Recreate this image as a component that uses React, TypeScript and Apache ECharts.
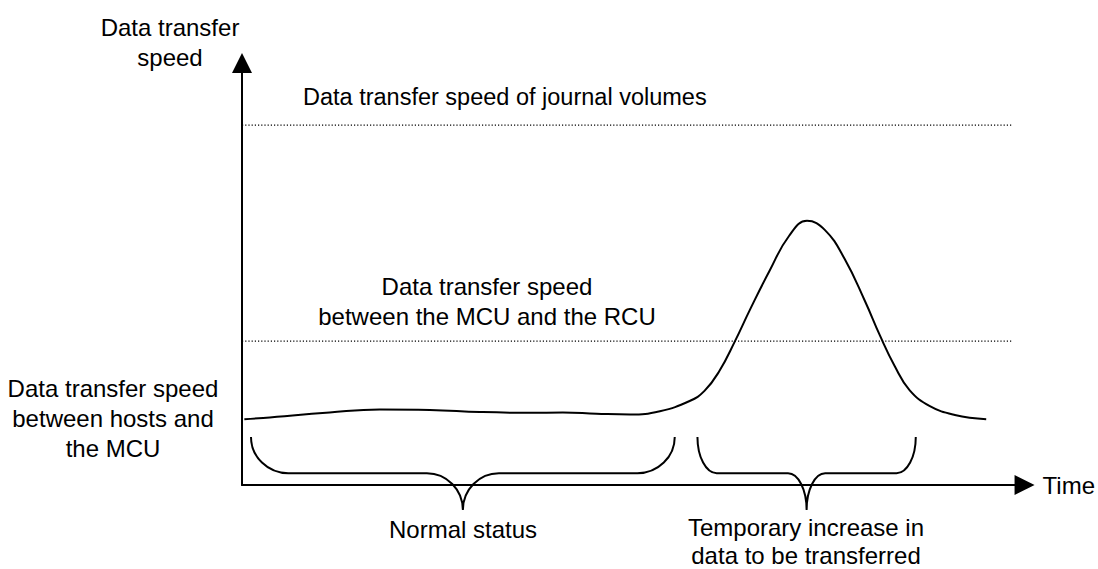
import React, { useEffect, useRef } from "react";
import * as echarts from "echarts";

// Time axis (0–100) and transfer-speed axis (0–100), conceptual units
const curveTime = [0.3, 2.7, 11.2, 17.6, 24.0, 30.4, 36.8, 41.0, 45.3, 49.6, 53.4, 57.2, 59.1, 61.0, 63.0, 64.9, 67.4, 69.9, 72.2, 74.5, 77.0, 79.6, 81.5, 83.4, 85.3, 87.9, 91.1, 95.1];
const curveSpeed = [15.6, 15.9, 17.2, 17.9, 17.8, 17.3, 17.1, 17.2, 16.9, 16.7, 17.5, 19.9, 22.3, 27.0, 34.1, 41.5, 50.7, 59.0, 62.6, 60.4, 53.6, 43.6, 35.5, 28.2, 22.5, 18.7, 16.6, 15.6];

const journalSpeed = 85.3;
const linkSpeed = 34.1;
const thresholdSpan = [0, 98.3];

// braces: [startTime, endTime, topSpeed, barSpeed, tipSpeed]
const braceStart = [1.15, 58.2];
const braceEnd = [55.3, 86.1];
const braceTop = 11.4;
const braceBar = 2.8;
const braceTip = -5.9;

const FONT = "'Liberation Sans', Arial, Helvetica, sans-serif";

export default function App() {
  const ref = useRef<HTMLDivElement>(null);

  useEffect(() => {
    if (!ref.current) return;
    const chart = echarts.init(ref.current, undefined, { renderer: "svg" });

    const braceData = braceStart.map((s, i) => [s, braceEnd[i], braceTop, braceBar, braceTip]);

    const option: any = {
      animation: false,
      backgroundColor: "#ffffff",
      grid: { left: 242, right: 73, top: 63, bottom: 84, containLabel: false },
      xAxis: {
        type: "value",
        min: 0,
        max: 100,
        name: "Time",
        nameLocation: "end",
        nameGap: 18,
        nameTextStyle: { fontSize: 24, fontFamily: FONT, color: "#000", align: "left", verticalAlign: "middle" },
        axisLine: { show: true, symbol: ["none", "triangle"], symbolSize: [20, 20], lineStyle: { color: "#000", width: 2 } },
        axisTick: { show: false },
        axisLabel: { show: false },
        splitLine: { show: false },
      },
      yAxis: {
        type: "value",
        min: 0,
        max: 100,
        name: "Data transfer\nspeed",
        nameLocation: "end",
        nameGap: 21,
        nameTextStyle: {
          fontSize: 24,
          fontFamily: FONT,
          color: "#000",
          lineHeight: 30,
          align: "center",
          verticalAlign: "middle",
          padding: [0, 144, 0, 0],
        },
        axisLine: { show: true, symbol: ["none", "triangle"], symbolSize: [20, 20], lineStyle: { color: "#000", width: 2 } },
        axisTick: { show: false },
        axisLabel: { show: false },
        splitLine: { show: false },
      },
      series: [
        {
          type: "line",
          data: thresholdSpan.map((t) => [t, journalSpeed]),
          symbol: "none",
          lineStyle: { color: "#000", width: 1.2, type: [1.2, 2] },
          silent: true,
        },
        {
          type: "line",
          data: thresholdSpan.map((t) => [t, linkSpeed]),
          symbol: "none",
          lineStyle: { color: "#000", width: 1.2, type: [1.2, 2] },
          silent: true,
        },
        {
          type: "line",
          data: curveTime.map((t, i) => [t, curveSpeed[i]]),
          symbol: "none",
          smooth: 0.45,
          lineStyle: { color: "#000", width: 2 },
          silent: true,
        },
        {
          type: "custom",
          clip: false,
          silent: true,
          encode: { x: [0, 1], y: [2, 3, 4] },
          data: braceData,
          renderItem: (params: any, api: any) => {
            const p0 = api.coord([api.value(0), api.value(2)]);
            const p1 = api.coord([api.value(1), api.value(2)]);
            const yM = api.coord([api.value(0), api.value(3)])[1];
            const yP = api.coord([api.value(0), api.value(4)])[1];
            const x0 = p0[0];
            const x1 = p1[0];
            const yT = p0[1];
            const w = x1 - x0;
            const mid = (x0 + x1) / 2;
            const e = w * 0.088;
            const c = w * 0.085;
            const k = 0.55;
            const d =
              `M ${x0} ${yT} ` +
              `C ${x0} ${yT + k * (yM - yT)} ${x0 + e - k * e} ${yM} ${x0 + e} ${yM} ` +
              `L ${mid - c} ${yM} ` +
              `C ${mid - c + k * c} ${yM} ${mid} ${yP - k * (yP - yM)} ${mid} ${yP} ` +
              `C ${mid} ${yP - k * (yP - yM)} ${mid + c - k * c} ${yM} ${mid + c} ${yM} ` +
              `L ${x1 - e} ${yM} ` +
              `C ${x1 - e + k * e} ${yM} ${x1} ${yT + k * (yM - yT)} ${x1} ${yT}`;
            return {
              type: "path",
              shape: { pathData: d },
              style: { fill: "none", stroke: "#000", lineWidth: 2 },
            };
          },
        },
      ],
      graphic: [
        {
          type: "text",
          x: 303,
          y: 97,
          style: { text: "Data transfer speed of journal volumes", fontSize: 23.5, fontFamily: FONT, fill: "#000", align: "left", verticalAlign: "middle" },
        },
        {
          type: "text",
          x: 487,
          y: 301,
          style: { text: "Data transfer speed\nbetween the MCU and the RCU", fontSize: 24, lineHeight: 30, fontFamily: FONT, fill: "#000", align: "center", verticalAlign: "middle" },
        },
        {
          type: "text",
          x: 113,
          y: 418,
          style: { text: "Data transfer speed\nbetween hosts and\nthe MCU", fontSize: 24, lineHeight: 30, fontFamily: FONT, fill: "#000", align: "center", verticalAlign: "middle" },
        },
        {
          type: "text",
          x: 463,
          y: 529,
          style: { text: "Normal status", fontSize: 24, fontFamily: FONT, fill: "#000", align: "center", verticalAlign: "middle" },
        },
        {
          type: "text",
          x: 806,
          y: 541,
          style: { text: "Temporary increase in\ndata to be transferred", fontSize: 24, lineHeight: 28, fontFamily: FONT, fill: "#000", align: "center", verticalAlign: "middle" },
        },
      ],
    };

    chart.setOption(option);
    return () => chart.dispose();
  }, []);

  return (
    <div
      ref={ref}
      style={{ position: "fixed", left: 0, top: 0, width: 1098, height: 569, background: "#fff" }}
    />
  );
}
